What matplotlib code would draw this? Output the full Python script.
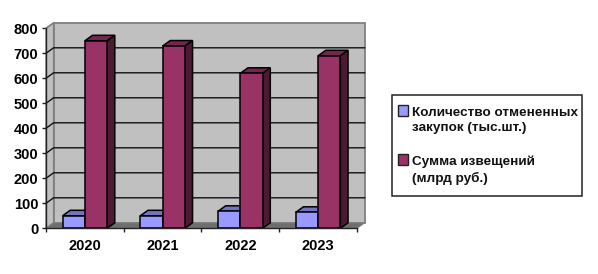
import matplotlib
matplotlib.use("Agg")
import matplotlib.pyplot as plt
from matplotlib.patches import Polygon, Rectangle
from matplotlib.transforms import Affine2D

years = ["2020", "2021", "2022", "2023"]
cancelled = [50, 50, 68, 64]
notices = [750, 729, 620, 690]
y_ticks = [0, 100, 200, 300, 400, 500, 600, 700, 800]
legend_labels = ["Количество отмененных\nзакупок (тыс.шт.)", "Сумма извещений\n(млрд руб.)"]

W, H = 598, 274
FONT = "Liberation Sans"
fig = plt.figure(figsize=(W / 100, H / 100), dpi=100, facecolor="white")
ax = fig.add_axes([46 / W, 1 - 228.3 / H, 311 / W, 200 / H])
ax.set_xlim(0, 4)
ax.set_ylim(0, 800)
ax.set_facecolor("none")

dx, dy = 7.6 * 4 / 311, 5.5 * 800 / 200
wall, floor, edge = "#C0C0C0", "#6E6E6E", "#808080"

# walls and floor
ax.add_patch(Polygon([(dx, dy), (4 + dx, dy), (4 + dx, 800 + dy), (dx, 800 + dy)], fc=wall, ec=edge, lw=1.3, zorder=1, clip_on=False))
ax.add_patch(Polygon([(0, 0), (dx, dy), (dx, 800 + dy), (0, 800)], fc=wall, ec=edge, lw=1.0, zorder=1, clip_on=False))
ax.add_patch(Polygon([(0, 0), (4, 0), (4 + dx, dy), (dx, dy)], fc=floor, ec=edge, lw=0.8, zorder=1.5, clip_on=False))

# gridlines on back and side walls
for t in y_ticks[1:-1]:
    ax.plot([0, dx, 4 + dx], [t, t + dy, t + dy], color="#111111", lw=1.0, zorder=2, clip_on=False, solid_joinstyle="miter")
ax.plot([0, dx], [800, 800 + dy], color=edge, lw=1.0, zorder=2, clip_on=False)


def bar3d(x0, w, v, front, top, side, z):
    ax.bar(x0, v, width=w, align="edge", color=front, edgecolor="black", linewidth=1.1, zorder=z + 0.2, clip_on=False)
    ax.add_patch(Polygon([(x0, v), (x0 + w, v), (x0 + w + dx, v + dy), (x0 + dx, v + dy)], fc=top, ec="black", lw=1.1, zorder=z, clip_on=False))
    ax.add_patch(Polygon([(x0 + w, 0), (x0 + w + dx, dy), (x0 + w + dx, v + dy), (x0 + w, v)], fc=side, ec="black", lw=1.1, zorder=z, clip_on=False))


bw = 0.287
for i in range(len(years)):
    bar3d(i + 0.5 - bw, bw, cancelled[i], "#9999FF", "#7373BF", "#4D4D80", 3)
    bar3d(i + 0.5, bw, notices[i], "#993366", "#732650", "#4D1A33", 4)

for s in ["top", "right"]:
    ax.spines[s].set_visible(False)
for s in ["left", "bottom"]:
    ax.spines[s].set_color("#222222")
    ax.spines[s].set_linewidth(1.0)
    ax.spines[s].set_zorder(6)

ax.set_yticks(y_ticks)
ax.set_yticklabels([str(t) for t in y_ticks], fontfamily=FONT, fontweight="bold", fontsize=10.5, color="black")
ax.tick_params(axis="y", length=3, width=1, pad=2.5, color="#222222")
ax.set_xticks(range(5))
ax.set_xticklabels([])
ax.tick_params(axis="x", which="major", length=3, width=1, color="#222222")
ax.set_xticks([i + 0.5 for i in range(4)], minor=True)
ax.set_xticklabels(years, minor=True, fontfamily=FONT, fontweight="bold", fontsize=10.5, color="black")
ax.tick_params(axis="x", which="minor", length=0, pad=8)

# legend, laid out in reference pixels
px = Affine2D().scale(1 / W, -1 / H).translate(0, 1) + fig.transFigure
fig.add_artist(Rectangle((392, 94.5), 189.5, 101, transform=px, fc="white", ec="#222222", lw=1.1))
for (sw_col, sw_y, txt_y, lab) in [("#9999FF", 105, 107, legend_labels[0]), ("#993366", 154, 156, legend_labels[1])]:
    fig.add_artist(Rectangle((397.5, sw_y), 10.5, 10.5, transform=px, fc=sw_col, ec="#222222", lw=1.0))
    fig.text(412, txt_y, lab, transform=px, fontfamily=FONT, fontweight="bold", fontsize=9.7, color="#111111",
             va="top", ha="left", linespacing=1.36)

fig.savefig("out.png", dpi=100, facecolor="white")
